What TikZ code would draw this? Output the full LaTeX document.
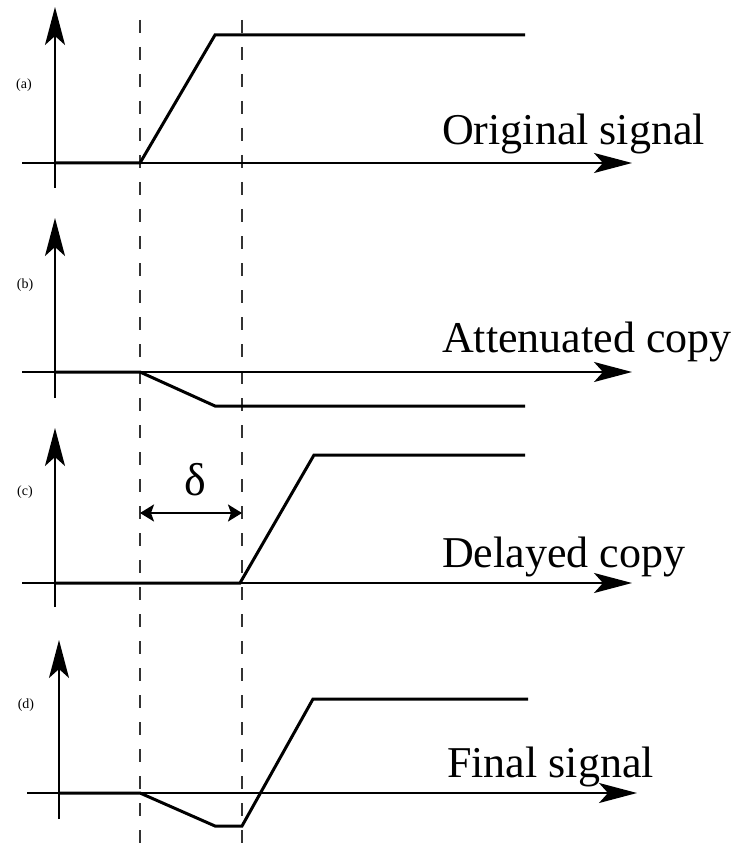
\documentclass[tikz,border=0pt]{standalone}
\usepackage{fontspec}
\setmainfont{Liberation Serif}
\usetikzlibrary{arrows.meta}
\begin{document}
\begin{tikzpicture}[x=1pt,y=-1pt,
  axis/.style={line width=2pt,-{Stealth[length=38pt,width=20pt,inset=9pt]}},
  sig/.style={line width=3pt,line join=miter},
  guide/.style={line width=2pt,dash pattern=on 13pt off 14pt,black!80},
  caption/.style={font=\fontsize{44}{50}\selectfont,anchor=base west,inner sep=0pt},
  tag/.style={font=\fontsize{14}{16}\selectfont,inner sep=0pt}]
\useasboundingbox (0,0) rectangle (736,850);

% dashed time markers
\coordinate (t0top) at (140,20);
\coordinate (t0bot) at (140,850);
\coordinate (t1top) at (242,20);
\coordinate (t1bot) at (242,850);
\draw[guide] (t0top) -- (t0bot);
\draw[guide] (t1top) -- (t1bot);

% (a) original signal
\coordinate (aYlo) at (55,188); \coordinate (aYhi) at (55,7);
\coordinate (aXlo) at (22,163); \coordinate (aXhi) at (632,163);
\draw[axis] (aYlo) -- (aYhi);
\draw[axis] (aXlo) -- (aXhi);
\draw[sig] (55,163) -- (140,163) -- (215,35) -- (525,35);
\node[tag] (taga) at (24,85) {(a)};
\node[caption] (capa) at (442,145) {Original signal};

% (b) attenuated copy
\coordinate (bYlo) at (55,398); \coordinate (bYhi) at (55,218);
\coordinate (bXlo) at (22,372); \coordinate (bXhi) at (632,372);
\draw[axis] (bYlo) -- (bYhi);
\draw[axis] (bXlo) -- (bXhi);
\draw[sig] (55,372) -- (140,372) -- (215,406) -- (525,406);
\node[tag] (tagb) at (25,285) {(b)};
\node[caption] (capb) at (442,352) {Attenuated copy};

% (c) delayed copy
\coordinate (cYlo) at (55,607); \coordinate (cYhi) at (55,428);
\coordinate (cXlo) at (22,583); \coordinate (cXhi) at (632,583);
\draw[axis] (cYlo) -- (cYhi);
\draw[axis] (cXlo) -- (cXhi);
\draw[sig] (55,583) -- (240,583) -- (314,455) -- (525,455);
\node[tag] (tagc) at (25,492) {(c)};
\node[caption] (capc) at (442,567) {Delayed copy};
% delay between the markers
\coordinate (dl) at (140,513); \coordinate (dr) at (242,513);
\draw[line width=2pt,{Stealth[length=14pt,width=17pt,inset=3pt]}-{Stealth[length=14pt,width=17pt,inset=3pt]}] (dl) -- (dr);
\node[font=\fontsize{46}{50}\selectfont,inner sep=0pt] (delta) at (195,480) {δ};

% (d) final signal
\coordinate (dYlo) at (59,819); \coordinate (dYhi) at (59,640);
\coordinate (dXlo) at (27,793); \coordinate (dXhi) at (637,793);
\draw[axis] (dYlo) -- (dYhi);
\draw[axis] (dXlo) -- (dXhi);
\draw[sig] (59,793) -- (140,793) -- (215,826) -- (242,826) -- (313,699) -- (528,699);
\node[tag] (tagd) at (26,705) {(d)};
\node[caption] (capd) at (447,777) {Final signal};
\end{tikzpicture}
\end{document}
